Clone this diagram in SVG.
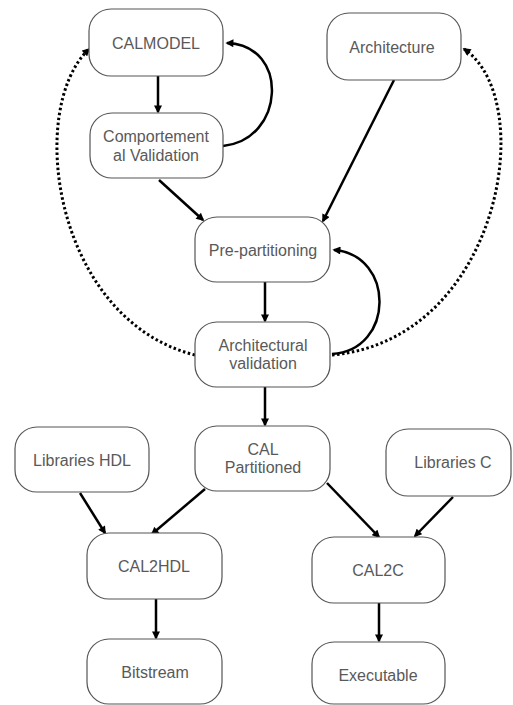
<svg xmlns="http://www.w3.org/2000/svg" width="513" height="705" viewBox="0 0 513 705">
<style>
.box{fill:#fff;stroke:#555;stroke-width:1.2}
.t{font-family:"Liberation Sans",Arial,sans-serif;font-size:16px;fill:#595959;text-anchor:middle}
.c{fill:none;stroke:#000;stroke-width:2.5}
.d{fill:none;stroke:#000;stroke-width:3;stroke-dasharray:2.5 2.5}
</style>
<defs>
<marker id="ah" viewBox="0 0 10 10" refX="8" refY="5" markerWidth="9" markerHeight="8" markerUnits="userSpaceOnUse" orient="auto">
<path d="M0,0 L10,5 L0,10 z" fill="#000"/>
</marker>
</defs>
<rect width="513" height="705" fill="#fff"/>
<g id="connectors">
<path class="c" d="M158,76 L158,112" marker-end="url(#ah)"/>
<path class="c" d="M223,146 C285,140 290,45 227,43" marker-end="url(#ah)"/>
<path class="c" d="M159,180 L203,220" marker-end="url(#ah)"/>
<path class="c" d="M394,80 L323,221" marker-end="url(#ah)"/>
<path class="c" d="M265,282 L265,321" marker-end="url(#ah)"/>
<path class="c" d="M332,354 C395,350 395,255 334,250" marker-end="url(#ah)"/>
<path class="d" d="M195,355 C55,320 25,110 89,49" marker-end="url(#ah)"/>
<path class="d" d="M332,355 C500,340 540,100 464,49" marker-end="url(#ah)"/>
<path class="c" d="M265,387 L265,425" marker-end="url(#ah)"/>
<path class="c" d="M205,489 L152,534" marker-end="url(#ah)"/>
<path class="c" d="M327,483 L379,537" marker-end="url(#ah)"/>
<path class="c" d="M80,493 L105,533" marker-end="url(#ah)"/>
<path class="c" d="M453,497 L415,536" marker-end="url(#ah)"/>
<path class="c" d="M156,599 L156,638" marker-end="url(#ah)"/>
<path class="c" d="M379,603 L379,641" marker-end="url(#ah)"/>
</g>
<g id="calmodel"><rect class="box" x="89" y="9" width="134" height="67" rx="22"/><text class="t" x="156" y="49">CALMODEL</text></g>
<g id="comportemental"><rect class="box" x="90" y="113" width="133" height="65" rx="22"/><text class="t" x="156" y="142">Comportement</text><text class="t" x="156" y="161">al Validation</text></g>
<g id="architecture"><rect class="box" x="327" y="13" width="134" height="67" rx="22"/><text class="t" x="392" y="53">Architecture</text></g>
<g id="prepartitioning"><rect class="box" x="195" y="217" width="135" height="65" rx="22"/><text class="t" x="263" y="256">Pre-partitioning</text></g>
<g id="archvalidation"><rect class="box" x="195" y="322" width="135" height="65" rx="22"/><text class="t" x="263" y="351">Architectural</text><text class="t" x="263" y="369">validation</text></g>
<g id="calpartitioned"><rect class="box" x="195" y="426" width="135" height="65" rx="22"/><text class="t" x="263" y="455">CAL</text><text class="t" x="263" y="473">Partitioned</text></g>
<g id="librarieshdl"><rect class="box" x="15" y="427" width="134" height="65" rx="22"/><text class="t" x="82" y="466">Libraries HDL</text></g>
<g id="librariesc"><rect class="box" x="386" y="429" width="125" height="67" rx="22"/><text class="t" x="453" y="468">Libraries C</text></g>
<g id="cal2hdl"><rect class="box" x="87" y="533" width="135" height="66" rx="22"/><text class="t" x="154" y="572">CAL2HDL</text></g>
<g id="cal2c"><rect class="box" x="312" y="537" width="133" height="66" rx="22"/><text class="t" x="378" y="576">CAL2C</text></g>
<g id="bitstream"><rect class="box" x="87" y="639" width="135" height="65" rx="22"/><text class="t" x="155" y="678">Bitstream</text></g>
<g id="executable"><rect class="box" x="312" y="642" width="133" height="62" rx="22"/><text class="t" x="378" y="681">Executable</text></g>
</svg>
